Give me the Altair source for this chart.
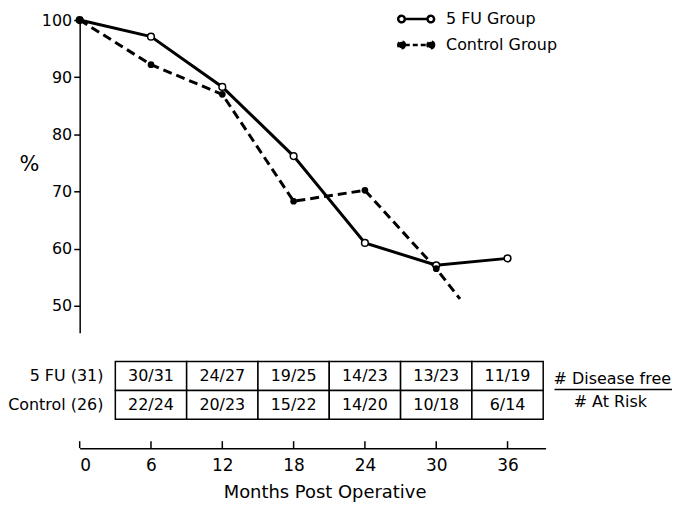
import altair as alt
import pandas as pd

# ---- data ----
months = [0, 6, 12, 18, 24, 30, 36]
fu_pct = [100, 97.1, 88.3, 76.2, 61.0, 57.1, 58.3]
ctrl_months = [0, 6, 12, 18, 24, 30, 32]
ctrl_pct = [100, 92.2, 87.0, 68.3, 70.2, 56.5, 51.2]

table_months = [6, 12, 18, 24, 30, 36]
fu_cells = ["30/31", "24/27", "19/25", "14/23", "13/23", "11/19"]
ctrl_cells = ["22/24", "20/23", "15/22", "14/20", "10/18", "6/14"]
row_labels = ["5 FU (31)", "Control (26)"]
x_ticks = [0, 6, 12, 18, 24, 30, 36]
y_ticks = [50, 60, 70, 80, 90, 100]
legend_labels = ["5 FU Group", "Control Group"]
frac_labels = ["# Disease free", "# At Risk"]

FONT = "DejaVu Sans"
W = 468
H_TOP = 314
H_BOT = 116
XDOM = [0, 39.2]
HALF_COL = 3

fu_df = pd.DataFrame({"month": months, "pct": fu_pct})
ctrl_df = pd.DataFrame({"month": ctrl_months, "pct": ctrl_pct})

x_scale = alt.Scale(domain=XDOM, nice=False, zero=False)
y_scale = alt.Scale(domain=[45.3, 100], nice=False, zero=False)

y_axis = alt.Axis(
    values=y_ticks, title="%", titleAngle=0, titleFontSize=21, titleFont=FONT,
    titleFontWeight="normal", titleColor="black", titleX=-51, titleY=145,
    titleAlign="center", titleBaseline="middle",
    labelFontSize=16, labelFont=FONT, labelColor="black", labelPadding=2,
    tickColor="black", tickSize=6, tickWidth=1.5,
    domainColor="black", domainWidth=1.5, grid=False,
)
xe = alt.X("month:Q", scale=x_scale, axis=None)
ye = alt.Y("pct:Q", scale=y_scale, axis=y_axis)

fu_line = alt.Chart(fu_df).mark_line(color="black", strokeWidth=3).encode(x=xe, y=ye)
ctrl_line = alt.Chart(ctrl_df).mark_line(
    color="black", strokeWidth=3, strokeDash=[9, 5]).encode(x=xe, y=ye)
fu_pts = alt.Chart(fu_df).mark_point(
    shape="circle", size=45, filled=True, fill="white", stroke="black",
    strokeWidth=1.5, opacity=1).encode(x=xe, y=ye)
ctrl_pts = alt.Chart(ctrl_df).transform_filter("datum.month % 6 == 0").mark_point(
    shape="circle", size=45, filled=True, fill="black", opacity=1).encode(x=xe, y=ye)

SYM = ("M-1.9 0L1.9 0"
       "M-1.9 0A0.55 0.55 0 1 1 -3 0A0.55 0.55 0 1 1 -1.9 0Z"
       "M3 0A0.55 0.55 0 1 1 1.9 0A0.55 0.55 0 1 1 3 0Z")
leg = alt.Legend(
    title=None, orient="none", legendX=330, legendY=-9,
    symbolSize=144, symbolStrokeWidth=2.5, symbolStrokeColor="black",
    symbolOpacity=1,
    labelFontSize=16, labelFont=FONT, labelColor="black", labelOffset=22,
    rowPadding=8,
)
leg_df = pd.DataFrame({"group": legend_labels})
legend_layer = alt.Chart(leg_df).transform_filter("false").mark_point(
    filled=True, size=144, strokeWidth=2.5, opacity=1).encode(
    shape=alt.Shape("group:N", scale=alt.Scale(domain=legend_labels, range=[SYM, SYM]), legend=leg),
    fill=alt.Fill("group:N", scale=alt.Scale(domain=legend_labels, range=["white", "black"]), legend=leg),
    stroke=alt.Stroke("group:N", scale=alt.Scale(domain=legend_labels, range=["black", "black"]), legend=leg),
    strokeDash=alt.StrokeDash("group:N", scale=alt.Scale(domain=legend_labels, range=[[1, 0], [5, 3]]), legend=leg),
)

top = alt.layer(fu_line, ctrl_line, fu_pts, ctrl_pts, legend_layer).properties(width=W, height=H_TOP)

# ---- table panel ----
cells_df = pd.DataFrame({
    "row": [row_labels[0]] * len(table_months) + [row_labels[1]] * len(table_months),
    "month": table_months + table_months,
    "text": fu_cells + ctrl_cells,
})
x_axis = alt.Axis(
    values=x_ticks, ticks=False, domain=True, domainColor="black", domainWidth=1.5,
    labelFontSize=17, labelFont=FONT, labelColor="black", labelPadding=9,
    title="Months Post Operative", titleFontSize=18, titleFont=FONT,
    titleFontWeight="normal", titleColor="black", titlePadding=11, titleX=246, grid=False,
)
row_scale = alt.Scale(domain=row_labels, paddingInner=0, paddingOuter=1)
yr = alt.Y("row:N", scale=row_scale, axis=None)

rects = alt.Chart(cells_df).transform_calculate(
    x0=f"datum.month - {HALF_COL}", x1=f"datum.month + {HALF_COL}"
).mark_rect(fill="white", stroke="black", strokeWidth=1.5).encode(
    x=alt.X("x0:Q", scale=x_scale, axis=x_axis), x2="x1:Q", y=yr)
cell_text = alt.Chart(cells_df).mark_text(fontSize=16, font=FONT, color="black").encode(
    x=alt.X("month:Q", scale=x_scale, axis=x_axis), y=yr, text="text:N")

rows_df = pd.DataFrame({"row": row_labels})
row_text = alt.Chart(rows_df).transform_calculate(
    edge=f"{table_months[0]} - {HALF_COL}"
).mark_text(align="right", dx=-12, fontSize=16, font=FONT, color="black").encode(
    x=alt.X("edge:Q", scale=x_scale, axis=x_axis), y=yr, text="row:N")

ticks_df = pd.DataFrame({"month": x_ticks})
tick_rules = alt.Chart(ticks_df).mark_rule(color="black", strokeWidth=1.5).encode(
    x=alt.X("month:Q", scale=x_scale, axis=x_axis),
    y=alt.value(H_BOT - 7), y2=alt.value(H_BOT))

frac_df = pd.DataFrame({"row": row_labels, "label": frac_labels})
frac_top = alt.Chart(frac_df).transform_filter(f"datum.row == '{row_labels[0]}'").mark_text(
    fontSize=16, font=FONT, color="black", dy=3).encode(
    x=alt.value(535), y=yr, text="label:N")
frac_bot = alt.Chart(frac_df).transform_filter(f"datum.row == '{row_labels[1]}'").mark_text(
    fontSize=16, font=FONT, color="black", dy=-3).encode(
    x=alt.value(533), y=yr, text="label:N")
frac_line = alt.Chart(frac_df).transform_filter(f"datum.row == '{row_labels[0]}'").mark_rule(
    color="black", strokeWidth=1.5).encode(
    x=alt.value(477), x2=alt.value(595), y=alt.value(57))

bottom = alt.layer(rects, cell_text, row_text, tick_rules, frac_top, frac_bot, frac_line).properties(
    width=W, height=H_BOT)

chart = alt.vconcat(top, bottom, spacing=0).resolve_legend(
    shape="independent", fill="independent", stroke="independent", strokeDash="independent"
).properties(
    padding={"left": 0, "top": 2, "right": 0, "bottom": 0}
).configure(
    font=FONT, view=alt.ViewConfig(stroke="transparent", strokeWidth=0)
)

chart.save("out.html", embed_options={"renderer": "svg", "actions": False})
